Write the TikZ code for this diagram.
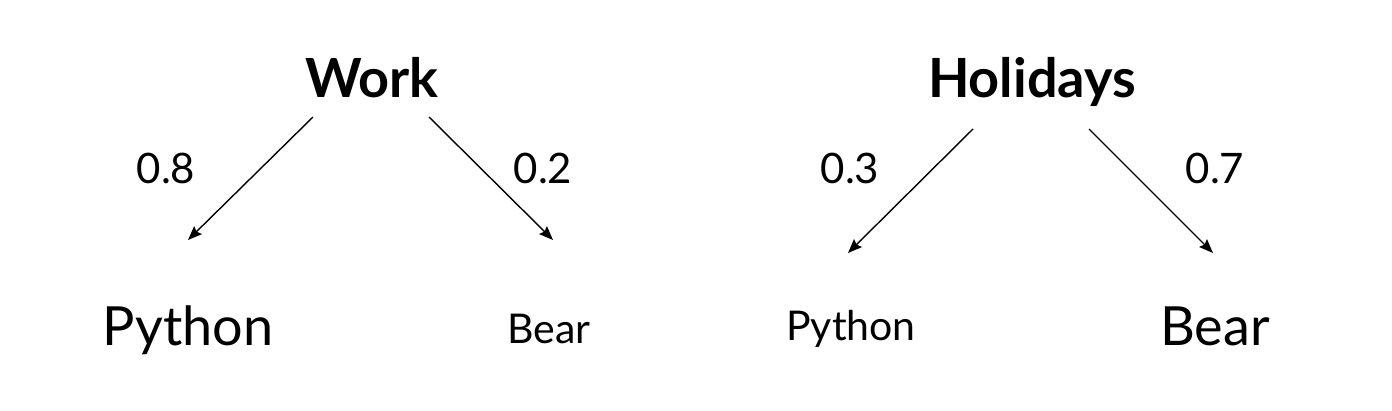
\documentclass[tikz,border=0pt]{standalone}
\usepackage{fontspec}
\setmainfont{Lato}
\usetikzlibrary{arrows.meta,calc}
\tikzset{
  word/.style={inner sep=0pt, anchor=base},
  topic/.style={word, font=\fontsize{54}{64}\selectfont\bfseries},
  big/.style={word, font=\fontsize{54}{64}\selectfont},
  small/.style={word, font=\fontsize{41}{49}\selectfont},
  prob/.style={word, font=\fontsize{42}{50}\selectfont},
  arr/.style={-{Stealth[length=14pt,width=11pt,inset=2pt]}, line width=1.4pt}
}

\begin{document}
\begin{tikzpicture}[x=1pt,y=-1pt]
  \useasboundingbox (0,0) rectangle (1392,410);
  % left tree
  \node[topic] (work) at (372,97) {Work};
  \node[big] (pyA) at (188,345) {Python};
  \node[small] (bearA) at (549,343) {Bear};
  \node[prob] (pA) at (166,183) {0.8};
  \node[prob] (bA) at (543,183) {0.2};
  \draw[arr] ($(work.base)+(-59,20)$) -- ($(pyA.base)+(0,-105)$);
  \draw[arr] ($(work.base)+(57,20)$) -- ($(bearA.base)+(4,-103)$);
  % right tree
  \node[topic] (hol) at (1032,97) {Holidays};
  \node[small] (pyB) at (851,340) {Python};
  \node[big] (bearB) at (1215,345) {Bear};
  \node[prob] (pB) at (850,183) {0.3};
  \node[prob] (bB) at (1215,183) {0.7};
  \draw[arr] ($(hol.base)+(-59,32)$) -- ($(pyB.base)+(-3,-87)$);
  \draw[arr] ($(hol.base)+(57,32)$) -- ($(bearB.base)+(-2,-92)$);
\end{tikzpicture}
\end{document}
